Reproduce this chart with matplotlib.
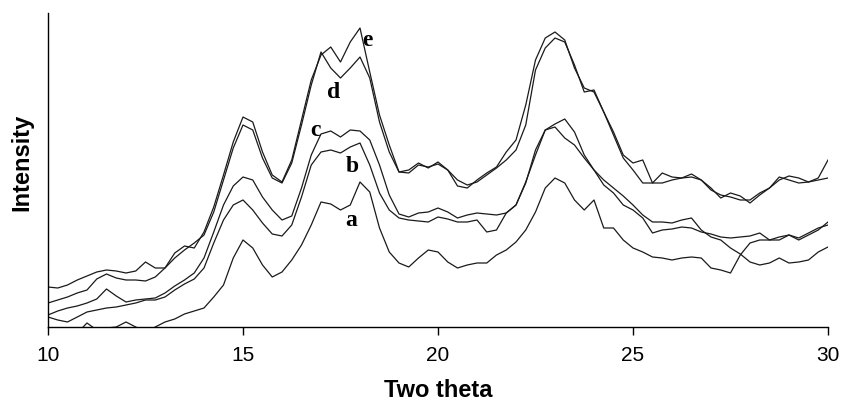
import numpy as np
import matplotlib
matplotlib.use("Agg")
import matplotlib.pyplot as plt

# =====================
# Data (0.25 deg steps from 10 to 30)
# =====================
two_theta = np.linspace(10, 30, 81)

curve_a = [-8, -11, -9, -6, 4, -3, -1, 0, 5, 0, -5, 0, 5, 8, 13, 16,
           19, 30, 42, 69, 87, 79, 62, 50, 55, 67, 82, 102, 125, 123, 117, 122,
           145, 135, 99, 75, 64, 60, 69, 77, 75, 65, 59, 62, 64, 64, 72, 77,
           85, 97, 115, 139, 149, 144, 127, 117, 127, 99, 99, 87, 79, 75, 70, 69,
           67, 69, 70, 69, 59, 57, 54, 72, 84, 87, 87, 90, 92, 89, 94, 99, 102]

curve_b = [10, 7, 5, 10, 15, 17, 19, 20, 22, 24, 27, 27, 30, 37, 43, 48,
           59, 84, 107, 122, 127, 117, 104, 93, 91, 102, 130, 162, 175, 177, 174, 180,
           184, 162, 134, 117, 109, 107, 106, 105, 110, 108, 105, 105, 107, 95, 97, 114,
           122, 145, 172, 197, 200, 189, 182, 169, 157, 142, 134, 122, 117, 109, 94, 97,
           98, 100, 99, 95, 93, 90, 89, 90, 91, 94, 87, 87, 92, 87, 92, 97, 105]

curve_c = [12, 16, 19, 21, 24, 28, 38, 31, 25, 27, 28, 29, 34, 41, 47, 54,
           69, 95, 122, 141, 150, 147, 130, 117, 107, 111, 139, 172, 193, 196, 190, 197,
           196, 187, 162, 132, 113, 110, 114, 115, 119, 115, 109, 112, 114, 113, 112, 114,
           122, 144, 177, 197, 203, 208, 195, 172, 157, 147, 139, 131, 122, 112, 105, 105,
           104, 107, 109, 97, 90, 87, 79, 73, 65, 62, 64, 69, 64, 65, 67, 75, 80]

curve_d = [24, 27, 30, 34, 37, 48, 53, 49, 47, 47, 46, 50, 59, 69, 77, 84,
           92, 115, 147, 179, 202, 197, 169, 149, 144, 164, 202, 242, 275, 259, 249, 259,
           270, 249, 205, 175, 155, 154, 162, 160, 163, 157, 147, 142, 145, 152, 159, 167,
           177, 202, 257, 279, 289, 285, 262, 235, 237, 215, 192, 169, 157, 144, 144, 144,
           147, 149, 150, 147, 137, 132, 130, 127, 127, 134, 139, 147, 151, 149, 145, 149, 167]

curve_e = [40, 39, 42, 47, 51, 55, 57, 56, 54, 56, 65, 59, 59, 74, 81, 79,
           95, 120, 152, 185, 210, 205, 175, 152, 145, 167, 207, 247, 272, 280, 265, 285,
           299, 255, 212, 182, 155, 157, 164, 159, 165, 157, 141, 139, 147, 154, 160, 175,
           187, 222, 267, 289, 295, 287, 259, 239, 235, 215, 195, 172, 164, 167, 144, 154,
           150, 149, 153, 147, 139, 129, 134, 131, 124, 132, 139, 150, 147, 144, 145, 147, 149]

series = [curve_a, curve_b, curve_c, curve_d, curve_e]

# label text and where it sits (two theta, intensity)
labels = ["a", "b", "c", "d", "e"]
label_x = [17.77, 17.8, 16.85, 17.33, 18.2]
label_y = [107, 161, 196, 235, 287]

x_ticks = [10, 15, 20, 25, 30]

# =====================
# Figure
# =====================
fig = plt.figure(figsize=(8.56, 4.07), dpi=100)
ax = fig.add_axes([48/856, 80/407, 780/856, 314/407])

for vals in series:
    ax.plot(two_theta, vals, color="#1a1a1a", lw=0.9)

for txt, lx, ly in zip(labels, label_x, label_y):
    ax.text(lx, ly, txt, fontsize=17, fontweight="bold",
            family="Liberation Serif", ha="center", va="center")

ax.set_xlim(10, 30)
ax.set_ylim(0, 314)
ax.set_xticks(x_ticks)
ax.set_yticks([])
ax.tick_params(axis="x", direction="out", length=6, width=1, pad=8,
               labelsize=15)
for lab in ax.get_xticklabels():
    lab.set_family("Liberation Sans")

for side in ["top", "right"]:
    ax.spines[side].set_visible(False)
for side in ["left", "bottom"]:
    ax.spines[side].set_linewidth(1)

ax.set_xlabel("Two theta", fontsize=17, fontweight="bold",
              family="Liberation Sans", labelpad=10)
ax.set_ylabel("Intensity", fontsize=17, fontweight="bold",
              family="Liberation Sans")
ax.yaxis.set_label_coords(-0.019, 0.525)

fig.savefig("out.png", dpi=100)
